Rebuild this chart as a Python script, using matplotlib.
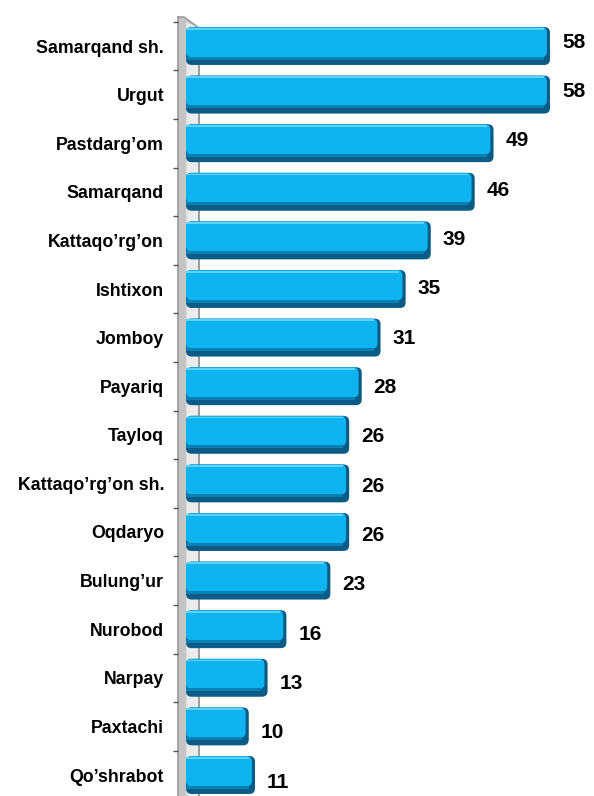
import matplotlib
matplotlib.use("Agg")
import matplotlib.pyplot as plt
from matplotlib.patches import FancyBboxPatch, Polygon, Rectangle
from matplotlib.transforms import offset_copy

districts = [
    "Samarqand sh.", "Urgut", "Pastdarg\u2019om", "Samarqand", "Kattaqo\u2019rg\u2019on",
    "Ishtixon", "Jomboy", "Payariq", "Tayloq", "Kattaqo\u2019rg\u2019on sh.",
    "Oqdaryo", "Bulung\u2019ur", "Nurobod", "Narpay", "Paxtachi", "Qo\u2019shrabot",
]
counts = [58, 58, 49, 46, 39, 35, 31, 28, 26, 26, 26, 23, 16, 13, 10, 11]

BAR = "#0db4f0"
SHADE = "#0a5c86"

plt.rcParams["font.family"] = ["Liberation Sans", "DejaVu Sans"]
plt.rcParams["font.weight"] = "bold"

W, H = 594, 796
fig = plt.figure(figsize=(W / 100, H / 100), dpi=100)

# background "wall" drawn in pixel space
wall = fig.add_axes([0, 0, 1, 1], zorder=0)
wall.set_xlim(0, W)
wall.set_ylim(H, 0)
wall.axis("off")
wall.add_patch(Polygon([(186, 22), (199, 28), (199, H), (186, H)],
                       closed=True, facecolor="#ececec", edgecolor="none"))
wall.add_patch(Polygon([(178, 17), (183, 17), (199, 28), (186, 22), (186, H), (178, H)],
                       closed=True, facecolor="#c4c4c4", edgecolor="none"))
wall.plot([178, 178], [17, H], color="#9a9a9a", lw=1.2)
wall.plot([178, 184, 199], [17, 17, 28], color="#9a9a9a", lw=1.2)
wall.plot([199, 199], [28, H], color="#8c8c8c", lw=1.2)
wall.plot([186, 186], [22, H], color="#dcdcdc", lw=1.0)

left = 186
ax = fig.add_axes([left / W, 0, 1 - left / W, 1], zorder=1)
ax.patch.set_alpha(0)
ppu = 6.276
ax.set_xlim(0, (W - left) / ppu)
row = 48.6
ax.set_ylim((H - 46) / row, -46 / row)

ypos = list(range(len(districts)))
bars = ax.barh(ypos, counts, height=0.78, color=BAR)

ra = (1 / row) / (1 / ppu)
for i, r in enumerate(bars):
    r.set_visible(False)
    x, y, w, h = r.get_x(), r.get_y(), r.get_width(), r.get_height()
    shadow = FancyBboxPatch((x, y), w, h, boxstyle="round,pad=0,rounding_size=0.9",
                            mutation_aspect=ra, facecolor=SHADE, edgecolor="none", zorder=2)
    ax.add_patch(shadow)
    body = FancyBboxPatch((x, y), w - 0.5, h * 0.8, boxstyle="round,pad=0,rounding_size=0.9",
                          mutation_aspect=ra, facecolor=BAR, edgecolor="none", zorder=3)
    ax.add_patch(body)
    ax.add_patch(Rectangle((x, y + h * 0.02), w - 1.0, h * 0.05, facecolor="#5fd0f6",
                           edgecolor="none", zorder=4))
    ax.add_patch(Rectangle((x, y + h * 0.78), w - 1.0, h * 0.08, facecolor="#0880b4",
                           edgecolor="none", zorder=4))
    dy = 4 - 11 * i / 15
    tr = offset_copy(ax.transData, fig=fig, x=12, y=dy, units="dots")
    ax.text(w, i, str(counts[i]), transform=tr, ha="left", va="center",
            fontsize=15, fontweight="bold", color="black")

ax.spines["left"].set_position(("outward", 5.8))
ax.set_yticks(ypos)
ax.set_yticklabels(districts)
ax.set_yticks([i + 0.5 for i in ypos[:-1]] + [-0.5], minor=True)
ax.tick_params(axis="y", which="major", length=0, pad=10, labelsize=12.8)
ax.tick_params(axis="y", which="minor", length=3.6, width=1, color="#555555", direction="out")
for lab in ax.get_yticklabels():
    lab.set_fontweight("bold")
for s in ax.spines.values():
    s.set_visible(False)
ax.set_xticks([])

fig.savefig("out.png", dpi=100)
